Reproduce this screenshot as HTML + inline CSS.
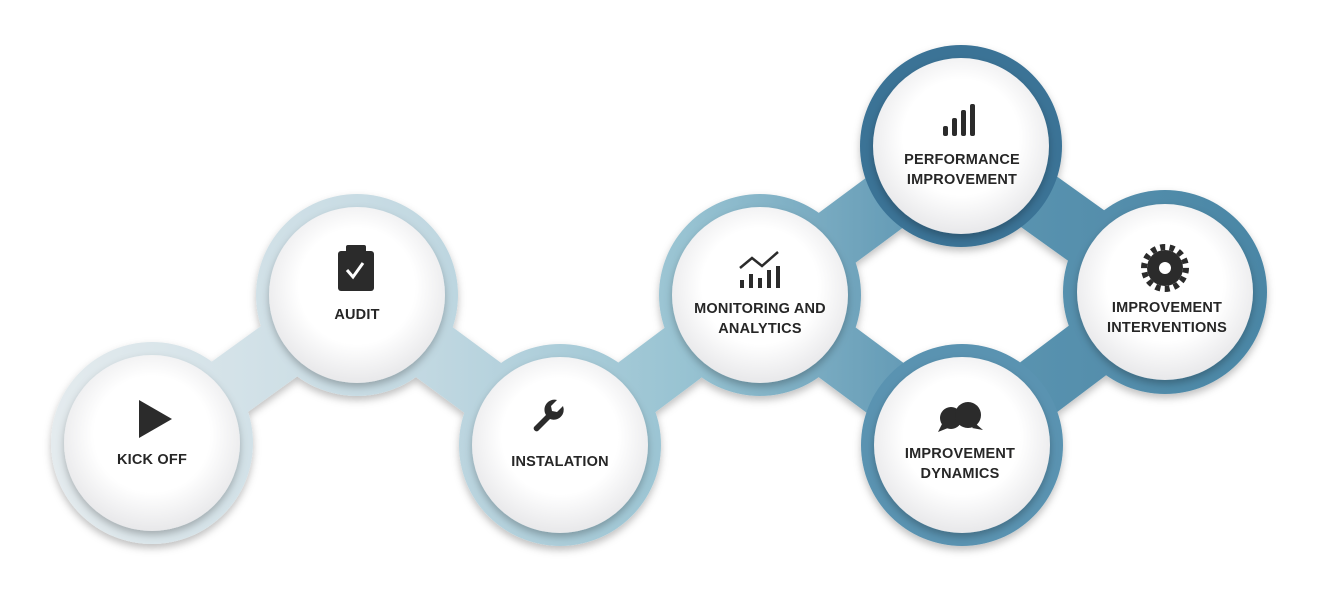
<!DOCTYPE html>
<html><head><meta charset="utf-8"><style>
html,body{margin:0;padding:0;background:#fff;}
svg{display:block}
text{font-family:"Liberation Sans",sans-serif;font-weight:bold;font-size:14.5px;fill:#262626;text-anchor:middle;letter-spacing:0.2px}
</style></head><body>
<svg width="1320" height="596" viewBox="0 0 1320 596" xmlns="http://www.w3.org/2000/svg">
<defs>
<linearGradient id="g" gradientUnits="userSpaceOnUse" x1="50" y1="0" x2="1270" y2="0">
<stop offset="0" stop-color="#e4ebee"/>
<stop offset="0.3" stop-color="#c3d9e2"/>
<stop offset="0.52" stop-color="#98c3d2"/>
<stop offset="0.72" stop-color="#5f97b3"/>
<stop offset="1" stop-color="#4a86a5"/>
</linearGradient>
<radialGradient id="w" cx="0.5" cy="0.45" r="0.55">
<stop offset="0.6" stop-color="#ffffff"/>
<stop offset="1" stop-color="#e8e8ea"/>
</radialGradient>
<filter id="sh" x="-20%" y="-20%" width="140%" height="140%">
<feDropShadow dx="0" dy="4" stdDeviation="4" flood-color="#000" flood-opacity="0.25"/>
</filter>
</defs>
<g filter="url(#sh)">
<g stroke="url(#g)" stroke-width="62" stroke-linecap="round">
<line x1="152" y1="443" x2="357" y2="295"/>
<line x1="357" y1="295" x2="560" y2="445"/>
<line x1="560" y1="445" x2="760" y2="295"/>
<line x1="760" y1="295" x2="961" y2="146"/>
<line x1="760" y1="295" x2="962" y2="445"/>
<line x1="961" y1="146" x2="1165" y2="292"/>
<line x1="962" y1="445" x2="1165" y2="292"/>
</g>
<g fill="url(#g)">
<circle cx="152" cy="443" r="101"/>
<circle cx="357" cy="295" r="101"/>
<circle cx="560" cy="445" r="101"/>
<circle cx="760" cy="295" r="101"/>
<circle cx="961" cy="146" r="101" fill="#3a7396"/>
<circle cx="1165" cy="292" r="102"/>
<circle cx="962" cy="445" r="101" fill="#5a93b1"/>
</g>
</g>
<g fill="url(#w)" filter="url(#sh)">
<circle cx="152" cy="443" r="88"/>
<circle cx="357" cy="295" r="88"/>
<circle cx="560" cy="445" r="88"/>
<circle cx="760" cy="295" r="88"/>
<circle cx="961" cy="146" r="88"/>
<circle cx="1165" cy="292" r="88"/>
<circle cx="962" cy="445" r="88"/>
</g>
<g fill="#2b2b2b">
<polygon points="139,400 139,438 172,419"/>
<rect x="338" y="251" width="36" height="40" rx="3"/>
<rect x="346" y="245" width="20" height="9" rx="2"/>
<path d="M546,415 l-12,12 a3,3 0 0 0 4,4 l12,-12 a10,10 0 0 0 13,-13 l-6,6 l-5,-1 l-1,-5 l6,-6 a10,10 0 0 0 -11,15z"/>
<rect x="740" y="280" width="4" height="8"/><rect x="749" y="274" width="4" height="14"/><rect x="758" y="278" width="4" height="10"/><rect x="767" y="270" width="4" height="18"/><rect x="776" y="266" width="4" height="22"/>
<rect x="943" y="126" width="5" height="10" rx="2"/><rect x="952" y="118" width="5" height="18" rx="2"/><rect x="961" y="110" width="5" height="26" rx="2"/><rect x="970" y="104" width="5" height="32" rx="2"/>
<circle cx="1165" cy="268" r="18"/>
<circle cx="951" cy="418" r="11"/><polygon points="942,424 938,432 948,428"/>
<circle cx="968" cy="415" r="13"/><polygon points="976,424 983,430 972,428"/>
</g>
<path d="M347,270 l6,7 l10,-14" stroke="#fff" stroke-width="3" fill="none"/>
<polyline points="740,268 752,258 762,266 778,252" stroke="#2b2b2b" stroke-width="2.5" fill="none"/>
<circle cx="1165" cy="268" r="6" fill="#fff"/>
<g stroke="#2b2b2b" stroke-width="6" stroke-dasharray="5 4.4"><circle cx="1165" cy="268" r="21" fill="none"/></g>
<text x="152" y="464">KICK OFF</text>
<text x="357" y="319">AUDIT</text>
<text x="560" y="466">INSTALATION</text>
<text x="760" y="313">MONITORING AND</text>
<text x="760" y="333">ANALYTICS</text>
<text x="962" y="164">PERFORMANCE</text>
<text x="962" y="184">IMPROVEMENT</text>
<text x="1167" y="312">IMPROVEMENT</text>
<text x="1167" y="332">INTERVENTIONS</text>
<text x="960" y="458">IMPROVEMENT</text>
<text x="960" y="478">DYNAMICS</text>
</svg>
</body></html>
